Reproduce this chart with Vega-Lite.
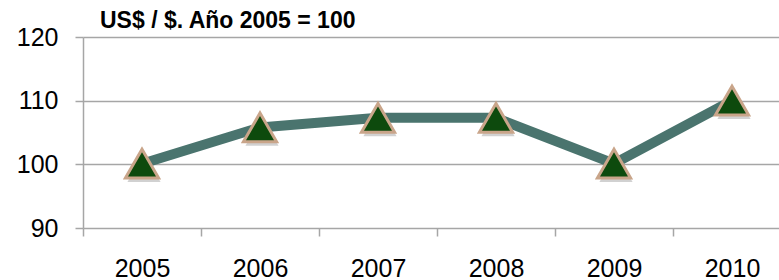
{
  "$schema": "https://vega.github.io/schema/vega-lite/v6.json",
  "autosize": {"type": "none"},
  "padding": {"left": 83, "top": 37, "right": 0, "bottom": 52},
  "width": 696,
  "height": 191,
  "background": "white",
  "title": {
    "text": "US$ / $. Año 2005 = 100",
    "anchor": "start",
    "frame": "group",
    "orient": "top",
    "font": "Liberation Sans",
    "fontSize": 23,
    "fontWeight": "bold",
    "color": "#000000",
    "dx": 17,
    "offset": -8
  },
  "data": {
    "values": [
      {"year": "2005", "value": 100.1},
      {"year": "2006", "value": 105.8},
      {"year": "2007", "value": 107.3},
      {"year": "2008", "value": 107.3},
      {"year": "2009", "value": 100.1},
      {"year": "2010", "value": 110.0}
    ]
  },
  "encoding": {
    "x": {
      "field": "year",
      "type": "ordinal",
      "scale": {"range": [0, 708], "paddingInner": 0, "paddingOuter": 0},
      "axis": {
        "title": null,
        "labelAngle": 0,
        "tickBand": "extent",
        "domain": false,
        "tickColor": "#a6a6a6",
        "tickWidth": 1.5,
        "tickSize": 8,
        "labelFont": "Liberation Sans",
        "labelFontSize": 25,
        "labelColor": "#000000",
        "labelPadding": 20,
        "grid": false
      }
    },
    "y": {
      "field": "value",
      "type": "quantitative",
      "scale": {"domain": [90, 120], "nice": false, "zero": false},
      "axis": {
        "title": null,
        "values": [90, 100, 110, 120],
        "domainColor": "#a6a6a6",
        "domainWidth": 1.5,
        "tickColor": "#a6a6a6",
        "tickWidth": 1.5,
        "tickSize": 8,
        "gridColor": "#a6a6a6",
        "gridWidth": 1.5,
        "labelFont": "Liberation Sans",
        "labelFontSize": 25,
        "labelColor": "#000000",
        "labelPadding": 17
      }
    }
  },
  "layer": [
    {
      "mark": {"type": "line", "color": "#4a746e", "strokeWidth": 10, "interpolate": "linear", "strokeJoin": "round"}
    },
    {
      "mark": {"type": "point", "shape": "triangle-up", "filled": true, "fill": "#000000", "opacity": 0.18, "size": 1100, "yOffset": 4, "xOffset": 2, "strokeWidth": 0}
    },
    {
      "mark": {"type": "point", "shape": "triangle-up", "filled": true, "fill": "#0d4a0d", "stroke": "#c9a58a", "strokeWidth": 3, "opacity": 1, "size": 1100}
    }
  ],
  "config": {"view": {"stroke": null}}
}
